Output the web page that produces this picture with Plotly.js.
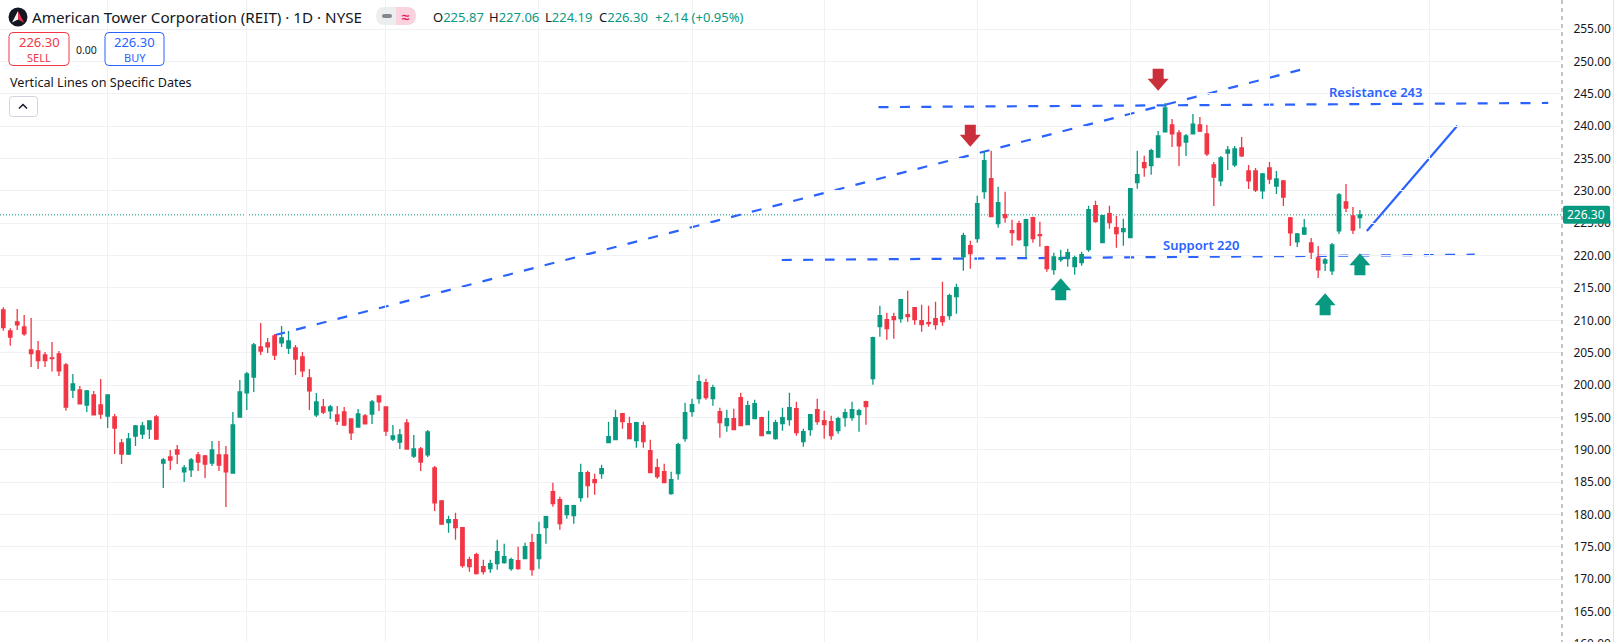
<!DOCTYPE html>
<html><head><meta charset="utf-8">
<script src="https://cdn.plot.ly/plotly-3.0.1.min.js"></script>
<style>html,body{margin:0;padding:0;background:#fff;overflow:hidden;width:1615px;height:642px}#c{width:1615px;height:660px}</style>
</head><body><div id="c"></div>
<script>
const highs=[212.01,208.76,211.75,210.82,210.36,206.80,205.10,206.65,205.26,203.40,
201.70,199.85,199.23,199.08,200.93,198.46,195.52,191.66,192.59,193.82,
194.29,194.44,195.37,188.72,189.96,190.73,187.64,188.72,189.65,189.19,
191.35,191.35,190.58,195.83,200.78,202.01,206.50,209.59,207.27,207.89,
209.12,208.35,206.19,205.10,202.48,198.77,197.84,196.91,196.76,196.60,
194.75,196.30,195.52,197.69,198.30,196.60,193.82,193.20,194.75,192.28,
190.42,193.05,187.49,182.23,179.81,180.27,177.95,173.47,174.09,173.00,
173.00,176.10,175.48,173.31,175.01,175.63,177.02,178.88,179.81,184.90,
182.74,181.51,181.51,187.84,186.76,186.30,187.69,194.33,196.19,195.57,
195.11,194.33,194.33,191.55,188.61,187.84,186.60,191.09,197.27,197.89,
201.60,200.98,200.05,196.50,196.19,196.34,198.82,197.58,197.73,195.11,
196.03,194.64,196.50,198.82,197.41,193.25,195.41,197.89,196.03,195.26,
195.11,196.34,197.41,196.34,197.58,
207.47,212.26,211.18,211.18,213.19,214.58,211.95,212.42,212.26,212.88,
215.97,214.12,215.66,223.54,222.31,229.26,236.06,236.22,230.65,229.88,
225.55,225.40,225.71,226.02,225.24,221.54,220.45,220.92,221.07,219.99,
220.61,227.72,228.49,226.33,227.72,226.17,225.71,230.34,236.22,235.45,
236.53,239.26,243.59,241.12,239.42,238.80,241.89,241.43,240.19,234.47,
235.40,236.95,236.95,238.34,234.01,233.54,232.77,234.47,233.08,231.69,
225.97,223.50,225.66,222.72,221.49,219.63,221.95,229.68,231.07,227.52,227.06];
const opens=[211.60,208.35,209.74,208.97,205.42,205.26,204.64,204.18,204.80,203.10,
199.23,199.23,196.91,198.46,196.91,195.21,195.06,191.04,189.34,192.12,
192.43,193.20,195.06,187.95,188.88,189.96,186.56,186.87,189.19,189.03,
187.95,189.19,189.19,186.40,195.06,198.77,201.24,205.88,206.50,207.58,
206.50,205.72,205.72,204.33,201.09,195.37,196.60,195.99,195.37,195.83,
194.75,193.51,195.21,195.52,198.30,196.60,191.66,191.19,194.13,189.03,
190.11,189.19,187.18,182.08,178.72,179.19,177.95,173.00,173.78,171.92,
171.61,172.39,172.54,171.61,172.85,173.16,175.63,173.16,177.95,183.51,
182.28,179.96,179.81,182.59,186.45,185.37,186.30,191.09,191.55,195.57,
194.02,191.40,193.72,189.85,187.22,186.60,183.21,186.30,191.71,195.88,
197.89,200.36,197.89,195.88,193.72,194.80,198.04,193.87,194.80,194.95,
192.48,191.71,194.02,194.64,196.34,191.24,193.10,196.19,194.49,194.33,
192.94,194.95,194.95,195.41,197.41,
200.98,209.02,210.10,210.56,210.25,210.87,211.95,209.94,209.63,210.25,
210.56,210.71,213.65,219.79,221.53,222.62,229.88,231.89,224.94,226.33,
223.85,224.94,221.54,225.86,223.23,221.38,217.83,219.37,219.53,218.29,
218.91,220.92,227.72,222.00,226.48,224.32,223.70,222.77,231.27,234.36,
233.90,235.24,239.11,240.19,238.95,237.56,238.80,240.19,238.80,234.01,
231.54,235.86,234.01,236.64,233.08,233.08,229.99,233.54,230.76,231.54,
225.82,222.11,223.34,221.95,219.63,218.86,217.63,223.81,228.29,226.12,225.87];
const closes=[208.87,207.42,209.28,207.89,204.85,203.77,203.77,204.08,202.17,196.60,
200.16,197.07,199.08,195.37,195.52,198.46,193.36,189.34,191.66,193.67,
193.67,194.44,191.66,188.41,188.41,189.34,187.18,188.41,188.10,187.79,
189.96,187.64,186.56,193.82,198.92,201.70,206.19,205.26,205.88,204.64,
207.27,206.80,204.02,202.17,199.08,197.38,195.83,196.60,194.44,193.82,
192.59,195.52,193.98,197.38,197.38,192.89,192.12,192.28,190.11,190.11,
188.10,192.74,181.77,178.52,179.19,177.95,172.08,171.92,170.84,171.15,
172.39,174.24,173.47,173.00,171.61,175.01,171.46,176.87,179.65,181.66,
178.57,181.35,181.35,186.45,184.44,184.90,187.07,192.02,194.95,194.33,
191.71,194.18,191.24,186.45,185.83,184.90,185.37,190.78,195.72,196.96,
200.52,198.04,199.59,194.18,194.80,193.10,193.72,196.81,197.12,192.17,
192.79,194.18,194.95,196.50,192.63,192.79,195.41,194.33,193.87,192.17,
194.80,195.72,196.19,196.03,196.65,
207.32,210.71,208.71,210.10,213.19,210.56,210.10,209.32,209.48,209.32,
209.79,213.81,215.04,223.08,220.30,228.03,234.67,226.02,228.18,225.86,
223.54,222.46,225.55,222.62,223.08,217.98,219.79,219.68,220.45,219.68,
220.14,227.10,225.24,226.17,225.09,223.39,224.16,230.34,232.51,233.59,
236.22,238.49,242.82,238.80,236.95,238.49,240.33,239.26,235.71,232.15,
235.09,236.33,236.48,235.40,231.54,230.14,232.62,231.84,231.84,229.06,
223.50,223.34,224.27,220.56,217.78,219.32,221.64,229.37,227.36,223.96,226.30];
const lows=[208.40,206.08,208.51,207.63,202.79,202.48,202.79,202.07,201.40,196.04,
197.99,197.07,195.83,195.37,194.75,193.36,189.34,187.79,189.19,190.58,
191.66,191.66,191.50,184.09,186.87,187.79,185.01,185.79,186.71,185.63,
187.49,186.71,181.15,186.40,195.06,196.14,198.92,204.64,204.95,203.87,
205.88,204.80,201.55,201.24,196.14,195.06,195.52,194.75,193.82,193.67,
191.50,193.51,193.98,193.98,195.99,192.12,191.35,190.11,190.11,188.72,
186.71,188.88,180.53,178.37,177.18,176.10,171.77,171.15,170.71,170.71,
170.99,171.46,172.39,171.30,171.46,173.16,170.53,171.61,175.48,181.20,
177.64,179.34,178.57,181.97,182.59,183.05,185.52,191.09,191.55,193.25,
191.71,190.32,190.32,186.45,185.52,184.90,183.05,185.37,191.24,195.11,
197.12,197.73,196.81,191.86,192.79,193.10,193.72,193.87,194.80,192.17,
192.48,191.55,192.94,193.72,192.17,190.47,192.17,193.87,191.71,191.55,
192.48,193.56,194.49,192.79,193.87,
200.05,207.47,207.01,207.16,209.63,209.79,209.32,208.24,209.02,208.55,
209.17,210.10,211.02,217.67,217.98,222.00,228.80,226.02,224.32,225.09,
221.54,222.31,219.68,222.00,221.38,217.52,217.05,219.06,218.29,217.05,
218.44,220.61,225.09,222.00,224.16,221.23,221.54,222.77,230.34,232.20,
232.51,235.09,239.11,236.79,233.85,235.40,238.80,239.11,235.40,227.67,
230.76,233.24,233.70,235.24,230.30,229.84,228.75,231.07,229.53,227.67,
221.49,221.34,223.19,219.48,216.54,217.63,217.01,223.34,226.73,223.34,224.19];
const priceTicks=[160,165,170,175,180,185,190,195,200,205,210,215,220,225,230,235,240,245,250,255];
const dateGridBars=[15,35,55,77,99,118,140,162,182,205];
const trendBars=[39.1,186.86], trendVals=[207.73,248.84];
const resistBars=[125.8,222.07], resistVals=[242.95,243.59];
const supportBars=[111.9,211.5], supportVals=[219.32,220.14];
const targetBars=[196.0,209.0], targetVals=[223.8,240.08];
const downArrowBars=[139,166], downArrowVals=[236.83,245.49];
const upArrowBars=[152,190,195], upArrowVals=[216.49,214.17,220.36];
const lastPrice=226.30;
const GREEN='#089981',RED='#F23645',BLUE='#2962FF',INK='#131722',FONT='"Noto Sans",sans-serif';
const W=1562,H=660;
const bars=opens.map((_,i)=>i);
const seg=(xs,ys,color,dash)=>({type:'line',layer:'below',xref:'x',yref:'y',x0:xs[0],x1:xs[1],y0:ys[0],y1:ys[1],line:{color,width:2.2,dash}});
const px=(path,o)=>Object.assign({type:'path',xref:'paper',yref:'paper',xsizemode:'pixel',ysizemode:'pixel',xanchor:0,yanchor:1,path,layer:'above',line:{width:0}},o);
const rr=(x0,y0,x1,y1,r)=>{y0=-y0;y1=-y1;return `M${x0+r},${y0}L${x1-r},${y0}Q${x1},${y0} ${x1},${y0-r}L${x1},${y1+r}Q${x1},${y1} ${x1-r},${y1}L${x0+r},${y1}Q${x0},${y1} ${x0},${y1+r}L${x0},${y0-r}Q${x0},${y0} ${x0+r},${y0}Z`};
const arrowUp='M0,0L10.5,-12L5.5,-12L5.5,-22L-5.5,-22L-5.5,-12L-10.5,-12Z';
const arrowDown='M0,0L10.5,12L5.5,12L5.5,22L-5.5,22L-5.5,12L-10.5,12Z';
const arrow=(x,y,path,color)=>({type:'path',layer:'above',xref:'x',yref:'y',xsizemode:'pixel',ysizemode:'pixel',xanchor:x,yanchor:y,path,fillcolor:color,line:{width:0}});
const shapes=[
 {type:'line',layer:'below',xref:'paper',yref:'y',x0:0,x1:1,y0:lastPrice,y1:lastPrice,line:{color:GREEN,width:1,dash:'1px,2px'}},
 seg(trendBars,trendVals,BLUE,'10px,11.4px'),
 seg(resistBars,resistVals,BLUE,'10px,11.4px'),
 seg(supportBars,supportVals,BLUE,'10px,11.4px'),
 seg(targetBars,targetVals,BLUE,'solid'),
 {type:'line',layer:'above',xref:'paper',yref:'paper',x0:1,x1:1,y0:0,y1:1,line:{color:'#888',width:1,dash:'4px,4px'}},
 {type:'line',layer:'above',xref:'paper',yref:'paper',x0:1613.5/W,x1:1613.5/W,y0:0,y1:1,line:{color:'#E0E3EB',width:1}},
 px(rr(9,32.5,69,65.5,4),{fillcolor:'#fff',line:{color:RED,width:1}}),
 px(rr(105,32.5,164,65.5,4),{fillcolor:'#fff',line:{color:BLUE,width:1}}),
 px(rr(9.5,96.5,37.5,116.5,3),{fillcolor:'#fff',line:{color:'#D1D4DC',width:1}}),
 px('M19,-108.5L23,-104.5L27,-108.5',{line:{color:INK,width:1.5}}),
 px('M396,-7L385,-7Q376,-7 376,-16Q376,-25 385,-25L396,-25Z',{fillcolor:'#ECEDEF'}),
 px('M396,-7L407,-7Q416,-7 416,-16Q416,-25 407,-25L396,-25Z',{fillcolor:'#FBD3DF'}),
 px(rr(382,14,392,18,2),{fillcolor:'#83868F'}),
 {type:'circle',layer:'above',xref:'paper',yref:'paper',xsizemode:'pixel',ysizemode:'pixel',xanchor:0,yanchor:1,x0:8.5,x1:27.5,y0:-7.5,y1:-26.5,fillcolor:INK,line:{width:0}},
 px('M18,-11L24,-22.5L18,-19.5Z',{fillcolor:'#E8324A'}),
 px('M18,-11L12,-22.5L18,-19.5Z',{fillcolor:'#F4F4F4'}),
 {type:'path',layer:'above',xref:'paper',yref:'y',xsizemode:'pixel',ysizemode:'pixel',xanchor:1,yanchor:lastPrice,path:rr(1,-9,48,9,2),fillcolor:GREEN,line:{width:0}},
 ...downArrowBars.map((b,i)=>arrow(b,downArrowVals[i],arrowDown,'#CC2F3C')),
 ...upArrowBars.map((b,i)=>arrow(b,upArrowVals[i],arrowUp,GREEN)),
];
const t=(x,y,text,size,color,anchor,extra)=>Object.assign({xref:'paper',yref:'paper',x:x/W,y:1-y/H,text,showarrow:false,xanchor:anchor||'left',yanchor:'middle',borderpad:0,font:{family:FONT,size,color}},extra);
const g=s=>`<span style="color:${GREEN}">${s}</span>`;
const annotations=[
 t(31,17,'American Tower Corporation (REIT) · 1D · NYSE',15.2,INK),
 t(432,17,`O${g('225.87')}`,13,INK),
 t(488,17,`H${g('227.06')}`,13,INK),
 t(544,17,`L${g('224.19')}`,13,INK),
 t(598,17,`C${g('226.30')}`,13,INK),
 t(654,17,g('+2.14 (+0.95%)'),13,INK),
 t(406,16,'<b>≈</b>',14,'#E91E63','center'),
 t(39,42,'226.30',13,RED,'center'),
 t(39,57,'SELL',11,RED,'center'),
 t(86,50,'0.00',10.5,INK,'center'),
 t(134.5,42,'226.30',13,BLUE,'center'),
 t(134.5,57,'BUY',11,BLUE,'center'),
 t(9,83,'Vertical Lines on Specific Dates',12.6,INK),
 {xref:'x',yref:'y',x:197.2,y:245.24,text:'Resistance 243',showarrow:false,font:{family:FONT,size:13,color:BLUE,weight:600}},
 {xref:'x',yref:'y',x:172.1,y:221.64,text:'Support 220',showarrow:false,font:{family:FONT,size:13,color:BLUE,weight:600}},
 {xref:'paper',yref:'y',x:1586/W,y:lastPrice,text:lastPrice.toFixed(2),showarrow:false,xanchor:'center',yanchor:'middle',font:{family:FONT,size:12,color:'#fff'}},
];
Plotly.newPlot('c',[{
 type:'candlestick',x:bars,open:opens,high:highs,low:lows,close:closes,
 increasing:{line:{color:GREEN,width:1.3},fillcolor:GREEN},
 decreasing:{line:{color:RED,width:1.3},fillcolor:RED},
 hoverinfo:'skip',showlegend:false
}],{
 width:1615,height:H,margin:{l:0,r:53,t:0,b:0,pad:0},paper_bgcolor:'#fff',plot_bgcolor:'#fff',showlegend:false,
 xaxis:{type:'linear',range:[-0.474,224.05],rangeslider:{visible:false},tickmode:'array',tickvals:dateGridBars,showticklabels:false,ticks:'',showgrid:true,gridcolor:'#F0F1F4',gridwidth:1,zeroline:false,showline:false},
 yaxis:{side:'right',range:[157.5,259.505],tickmode:'array',tickvals:priceTicks,ticktext:priceTicks.map(v=>v.toFixed(2)),ticks:'outside',ticklen:8,tickcolor:'rgba(0,0,0,0)',tickfont:{family:FONT,size:12,color:INK},showgrid:true,gridcolor:'#F0F1F4',gridwidth:1,zeroline:false,showline:false},
 shapes,annotations
},{displayModeBar:false,staticPlot:true});
</script></body></html>
